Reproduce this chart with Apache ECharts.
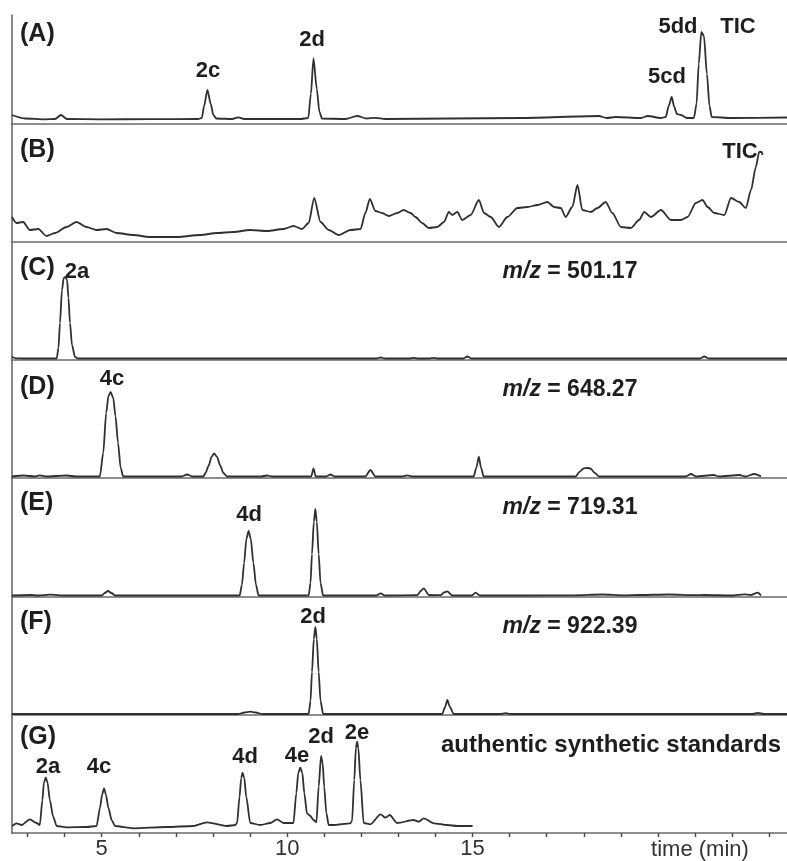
<!DOCTYPE html>
<html>
<head>
<meta charset="utf-8">
<script src="https://cdn.jsdelivr.net/npm/echarts@6/dist/echarts.min.js"></script>
<style>
  html, body { margin: 0; padding: 0; background: #fff; }
  #chart { width: 787px; height: 861px; }
</style>
</head>
<body>
<div id="chart"></div>
<script>
// time (min) / intensity pairs (intensity in arbitrary units)
var ticA = [[2.58,9],[2.93,5.5],[3.47,4.7],[3.74,5],[3.90,9],[4.06,5],[4.95,4.7],[6.30,4.8],[7.60,5],[7.70,6],[7.76,18],[7.85,34],[7.94,20],[8.01,9],[8.09,5.5],[8.52,5],[8.68,6.7],[8.84,5],[10.36,5],[10.57,6],[10.64,30],[10.71,65.7],[10.80,35],[10.87,12],[10.94,5.5],[11.57,5],[11.89,8],[12.14,5.5],[12.38,6.2],[12.65,5],[14.41,5.5],[16.30,6],[18.40,8],[18.62,6],[18.86,7],[19.54,6],[19.72,8],[20.08,6],[20.21,7],[20.29,18],[20.37,27],[20.44,17],[20.51,10],[20.62,9],[20.78,6],[20.97,6],[21.04,20],[21.10,60],[21.17,92],[21.24,88],[21.32,50],[21.39,18],[21.45,7],[21.97,6],[23.48,6.5]];
var ticB = [[2.58,25],[2.70,19],[2.88,20],[3.06,12],[3.29,13],[3.51,6],[3.74,9],[4.05,15],[4.32,20],[4.59,15],[4.86,12],[5.13,13],[5.40,9],[5.85,7],[6.30,5],[7.03,5],[7.65,7],[8.11,9],[8.55,10],[9.00,12],[9.46,11],[9.90,13],[10.17,16],[10.40,13],[10.58,19],[10.73,44],[10.90,20],[11.12,12],[11.39,7],[11.71,12],[11.98,13],[12.11,29],[12.23,43],[12.38,31],[12.56,29],[12.74,26],[12.97,29],[13.14,32],[13.33,29],[13.46,25],[13.64,19],[13.82,14],[14.05,15],[14.23,20],[14.36,30],[14.45,27],[14.59,30],[14.72,22],[14.95,27],[15.17,42],[15.31,29],[15.49,25],[15.71,15],[15.94,25],[16.21,34],[16.48,35],[16.75,37],[17.02,40],[17.20,35],[17.38,34],[17.51,25],[17.69,35],[17.83,57],[17.96,32],[18.19,30],[18.37,34],[18.59,40],[18.77,29],[19.00,15],[19.27,14],[19.49,22],[19.63,30],[19.81,25],[20.08,32],[20.35,22],[20.62,22],[20.80,25],[21.02,39],[21.20,42],[21.34,35],[21.52,29],[21.79,27],[21.97,44],[22.19,40],[22.37,34],[22.51,52],[22.64,75],[22.73,90],[22.80,90],[22.82,87]];
var mz501 = [[2.58,3.3],[2.70,1.7],[2.90,1.5],[3.50,1.5],[3.785,1.5],[3.833,12],[3.874,37],[3.928,70],[3.975,82],[4.02,83],[4.065,80],[4.103,62],[4.144,37],[4.198,15],[4.279,3],[4.368,1.5],[6.0,1.5],[9.0,1.5],[12.40,1.5],[12.52,2.5],[12.64,1.5],[13.30,1.5],[13.41,2.2],[13.52,1.5],[13.84,1.5],[13.95,2.2],[14.06,1.5],[14.75,1.5],[14.86,3.5],[14.97,1.5],[18.0,1.5],[21.13,1.5],[21.25,3.5],[21.37,1.5],[23.48,1.5]];
var mz648 = [[2.58,1.5],[2.90,2.5],[3.20,1.5],[3.33,2.7],[3.50,1.5],[4.05,2.5],[4.30,1.5],[4.95,1.5],[5.04,25],[5.12,65],[5.18,82],[5.24,86],[5.31,80],[5.37,62],[5.44,35],[5.51,10],[5.58,1.5],[6.0,1.5],[7.15,1.5],[7.30,3.5],[7.45,1.5],[7.74,1.5],[7.80,5],[7.88,12],[7.96,21],[8.03,24.7],[8.11,21],[8.20,12],[8.28,5],[8.38,1.5],[9.30,1.5],[9.46,2.5],[9.60,1.5],[10.65,1.5],[10.71,9.7],[10.77,1.5],[11.05,1.5],[11.17,3.5],[11.28,1.5],[12.11,1.5],[12.245,8],[12.38,1.5],[13.10,1.5],[13.24,2.7],[13.38,1.5],[15.03,1.5],[15.10,10],[15.17,21.3],[15.23,10],[15.30,1.5],[17.78,1.5],[17.88,6],[18.00,9.7],[18.10,10],[18.18,9.5],[18.30,5],[18.41,1.5],[20.75,1.5],[20.89,4],[21.03,1.5],[21.50,3],[21.65,1.5],[22.20,3],[22.35,1.5],[22.60,4],[22.78,1.5]];
var mz719 = [[2.58,1.5],[3.06,2],[3.30,1.5],[3.60,2.3],[4.0,1.5],[5.0,1.5],[5.08,4],[5.17,6],[5.26,4],[5.36,1.5],[8.0,1.5],[8.72,1.5],[8.78,12],[8.84,34],[8.90,58],[8.96,66],[9.02,58],[9.09,34],[9.16,12],[9.23,1.5],[10.58,1.5],[10.63,14],[10.67,43],[10.72,75],[10.76,88],[10.80,75],[10.85,43],[10.90,14],[10.97,1.5],[12.40,1.5],[12.52,3.7],[12.64,1.5],[13.51,1.8],[13.60,6],[13.685,8.7],[13.82,2],[14.14,1.8],[14.23,4.5],[14.317,5.7],[14.45,1.5],[14.98,1.5],[15.08,4.3],[15.20,1.5],[16.50,1.5],[17.74,1.7],[18.50,2.5],[19.08,1.7],[19.50,2],[20.30,2.5],[21.0,1.8],[21.25,2],[22.0,1.5],[22.33,2.7],[22.50,2],[22.69,4.3],[22.78,1.5]];
var mz922 = [[2.58,1],[6.0,1],[8.68,1],[8.85,2.5],[9.0,3.3],[9.15,2.5],[9.33,1],[10.58,1],[10.63,14],[10.67,43],[10.72,76],[10.76,88],[10.80,76],[10.85,43],[10.90,14],[10.97,1],[14.18,1],[14.26,8],[14.32,15],[14.39,8],[14.49,1],[15.75,1],[15.89,1.8],[16.03,1],[22.55,1],[22.70,2],[22.85,1],[23.48,1]];
var standards = [[2.58,7],[2.70,9.7],[2.84,8],[3.06,13.7],[3.245,10],[3.33,8],[3.40,33],[3.44,50],[3.49,55.7],[3.54,50],[3.60,33],[3.69,16.3],[3.785,7],[4.05,5.7],[4.59,6],[4.86,7],[4.954,25.3],[5.008,38],[5.062,44.7],[5.116,38],[5.178,25.3],[5.27,12.7],[5.36,7],[5.85,4.7],[6.75,6],[7.47,7],[7.835,10.7],[8.375,7],[8.60,8],[8.65,10],[8.716,36.3],[8.762,55],[8.797,60.3],[8.843,55],[8.897,36.3],[9.005,10],[9.275,8],[9.545,10],[9.726,13.7],[9.904,10],[10.17,10],[10.247,39.7],[10.30,60],[10.355,65.7],[10.41,60],[10.463,39.7],[10.535,19.7],[10.625,17],[10.71,13],[10.79,11],[10.85,46.3],[10.914,77],[10.957,70],[11.00,46.3],[11.057,20],[11.12,8],[11.25,8],[11.705,9.7],[11.75,12],[11.81,53],[11.854,85],[11.886,91.3],[11.92,85],[11.975,53],[12.064,10],[12.245,8.7],[12.52,18.7],[12.65,15.3],[12.766,18],[12.966,10],[13.41,13],[13.55,11.3],[13.685,14.7],[13.955,9.7],[14.317,8],[14.59,7],[15.0,7]];

var traces = [ticA, ticB, mz501, mz648, mz719, mz922, standards];
var panelLetters = ['(A)', '(B)', '(C)', '(D)', '(E)', '(F)', '(G)'];
var mzValues = ['', '', '501.17', '648.27', '719.31', '922.39', ''];
var tickLabels = [5, 10, 15];

var chart = echarts.init(document.getElementById('chart'));

var tops = [15, 124, 242, 360, 478, 597, 715, 833];
var FONT = '"Liberation Sans", Arial, sans-serif';
var ink = '#1e1e1e';

var grids = [], xAxes = [], yAxes = [], series = [];
for (var i = 0; i < traces.length; i++) {
	var h = tops[i + 1] - tops[i];
	var last = i === traces.length - 1;
	grids.push({left: 12, right: 0, top: tops[i], height: h});
	xAxes.push({
		type: 'value', gridIndex: i, min: 2.58, max: 23.48, splitNumber: 21,
		axisLine: {show: true, lineStyle: {color: '#6a6a6a', width: 1.6}},
		axisTick: {show: last, inside: false, length: 4, lineStyle: {color: '#444', width: 1.4}},
		axisLabel: {
			show: last, margin: 5, color: '#333', fontSize: 22, fontFamily: FONT,
			showMinLabel: false, showMaxLabel: false,
			formatter: function (v) { return tickLabels.indexOf(Math.round(v * 100) / 100) >= 0 ? String(v) : ''; }
		},
		splitLine: {show: false}
	});
	yAxes.push({
		type: 'value', gridIndex: i, min: 0, max: h,
		axisLine: {show: true, lineStyle: {color: '#6a6a6a', width: 1.6}},
		axisTick: {show: false}, axisLabel: {show: false}, splitLine: {show: false}
	});
	series.push({
		type: 'line', xAxisIndex: i, yAxisIndex: i, data: traces[i],
		showSymbol: false, smooth: 0.25, smoothMonotone: 'x', silent: true,
		lineStyle: {color: '#303030', width: 1.8}
	});
}

function txt(x, y, s, size, align) {
	return {
		type: 'text', x: x, y: y, silent: true,
		style: {text: s, fill: ink, fontSize: size, fontWeight: 'bold', fontFamily: FONT,
			align: align || 'center', verticalAlign: 'middle'}
	};
}
function mzText(x, y, v) {
	return {
		type: 'text', x: x, y: y, silent: true,
		style: {
			text: '{i|m/z} = ' + v, fill: ink, fontSize: 23, fontWeight: 'bold', fontFamily: FONT,
			align: 'center', verticalAlign: 'middle',
			rich: {i: {fontStyle: 'italic', fontWeight: 'bold', fontSize: 23, fontFamily: FONT, fill: ink}}
		}
	};
}

var letterY = [34, 150, 268, 387, 503, 622, 737];
var graphics = [];
panelLetters.forEach(function (p, k) { graphics.push(txt(20, letterY[k], p, 25, 'left')); });
var mzY = [0, 0, 272, 390, 508, 627];
mzValues.forEach(function (v, k) { if (v) graphics.push(mzText(570, mzY[k], v)); });
// compound labels
graphics.push(
	txt(208, 71, '2c', 22), txt(312, 40, '2d', 22), txt(667, 77, '5cd', 22),
	txt(678, 27, '5dd', 22), txt(738, 27, 'TIC', 22),
	txt(740, 152, 'TIC', 22),
	txt(77, 272, '2a', 22),
	txt(112, 379, '4c', 22),
	txt(249, 515, '4d', 22),
	txt(313, 617, '2d', 22),
	txt(48, 767, '2a', 22), txt(99, 767, '4c', 22), txt(245, 757, '4d', 22),
	txt(297, 756, '4e', 22), txt(321, 737, '2d', 22), txt(357, 733, '2e', 22),
	txt(611, 745, 'authentic synthetic standards', 24)
);
graphics.push({
	type: 'text', x: 700, y: 850, silent: true,
	style: {text: 'time (min)', fill: '#333', fontSize: 22, fontFamily: FONT, align: 'center', verticalAlign: 'middle'}
});

chart.setOption({
	animation: false,
	backgroundColor: '#fff',
	grid: grids,
	xAxis: xAxes,
	yAxis: yAxes,
	series: series,
	graphic: graphics
});
</script>
</body>
</html>
